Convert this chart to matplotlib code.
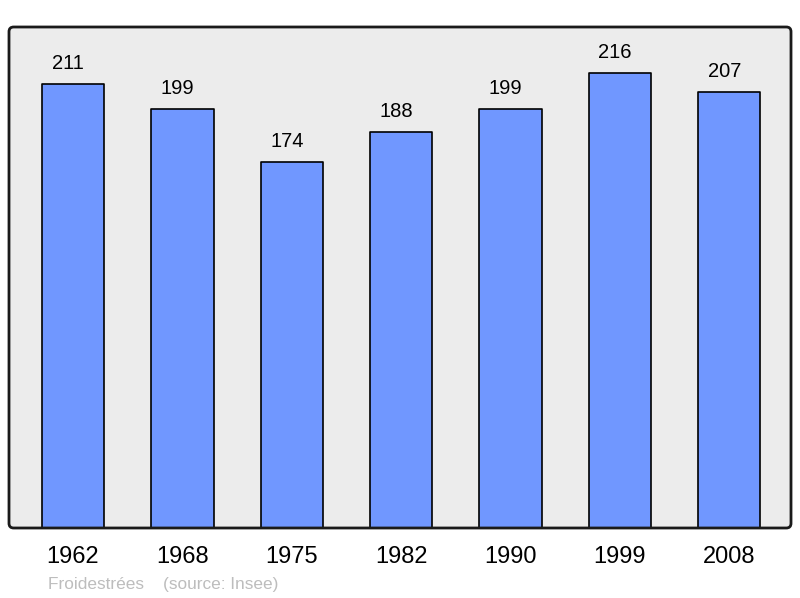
import matplotlib
matplotlib.use("Agg")
import matplotlib.pyplot as plt
from matplotlib.patches import FancyBboxPatch

plt.rcParams['font.family'] = ['Liberation Sans', 'DejaVu Sans']

years = ["1962", "1968", "1975", "1982", "1990", "1999", "2008"]
population = [211, 199, 174, 188, 199, 216, 207]

BG = "#ececec"
BAR = "#7097ff"

fig = plt.figure(figsize=(8, 5.98), dpi=100)
ax = fig.add_axes([9 / 800, 70 / 598, 782 / 800, 501 / 598])
ax.set_facecolor(BG)

x = range(len(years))
bars = ax.bar(x, population, width=0.57, color=BAR, edgecolor="black",
              linewidth=1.2, joinstyle="round", zorder=3)
for xi, v in zip(x, population):
    ax.annotate(str(v), (xi, v), xytext=(-3.5, 8), textcoords="offset points",
                ha="center", va="bottom", fontsize=14.5)

ax.set_xlim(-0.585, 6.565)
ax.set_ylim(0, 238)
ax.set_yticks([])
ax.set_xticks(list(x))
ax.set_xticklabels(years, fontsize=17)
ax.tick_params(axis="x", length=0, pad=13)
for s in ax.spines.values():
    s.set_visible(False)

# rounded frame
frame = FancyBboxPatch((0, 0), 1, 1, boxstyle="round,pad=0,rounding_size=0.006",
                       transform=ax.transAxes, facecolor="none",
                       edgecolor="#1a1a1a", linewidth=2, zorder=5, clip_on=False,
                       mutation_aspect=782 / 501)
ax.add_patch(frame)

fig.text(48 / 800, 1 - 584 / 598, "Froidestrées    (source: Insee)",
         fontsize=12.4, color="#bdbdbd", ha="left", va="center")

fig.savefig("out.png", dpi=100)
